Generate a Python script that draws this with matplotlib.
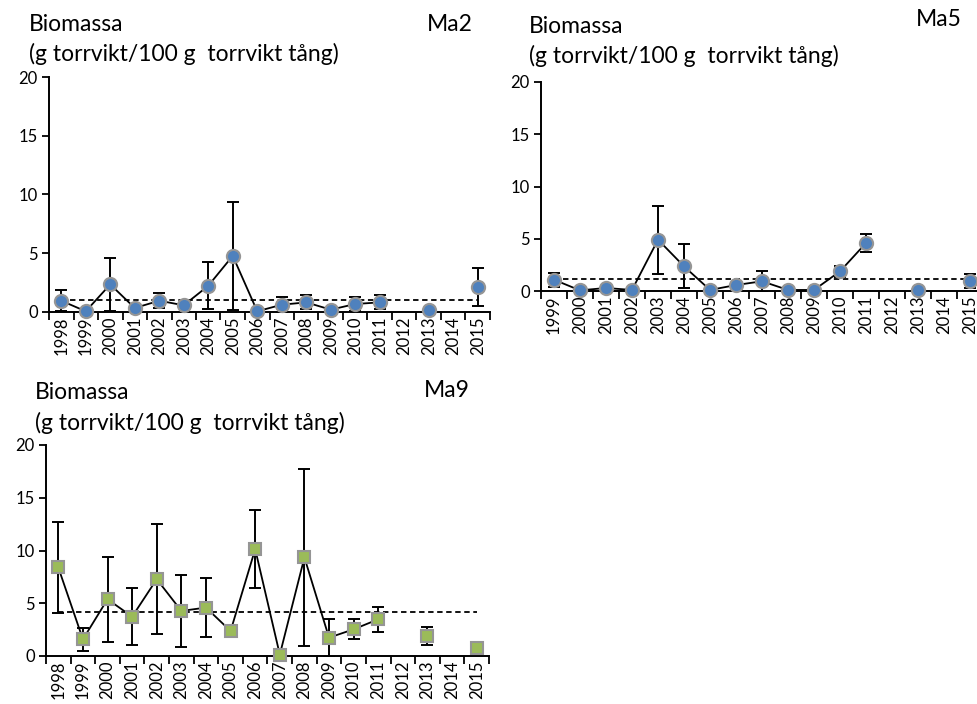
import numpy as np
import matplotlib
matplotlib.use("Agg")
import matplotlib.pyplot as plt
from matplotlib.ticker import FixedLocator, NullFormatter

plt.rcParams['font.family'] = ['Lato', 'DejaVu Sans']

nan = np.nan

# Ma2 station (1998-2015)
years_ma2 = [str(y) for y in range(1998, 2016)]
ma2_mean = [0.96, 0.06, 2.35, 0.34, 0.96, 0.57, 2.23, 4.78, 0.06, 0.62, 0.82, 0.20, 0.68, 0.82, nan, 0.20, nan, 2.09]
ma2_err = [0.88, 0.0, 2.23, 0.0, 0.62, 0.0, 2.0, 4.6, 0.0, 0.68, 0.60, 0.0, 0.62, 0.60, nan, 0.0, nan, 1.62]
ma2_avg = 1.0

# Ma5 station (1999-2015)
years_ma5 = [str(y) for y in range(1999, 2016)]
ma5_mean = [1.08, 0.06, 0.29, 0.10, 4.91, 2.36, 0.10, 0.57, 0.93, 0.10, 0.10, 1.88, 4.59, nan, 0.10, nan, 0.93]
ma5_err = [0.67, 0.0, 0.0, 0.0, 3.27, 2.1, 0.0, 0.0, 1.0, 0.0, 0.0, 0.55, 0.90, nan, 0.0, nan, 0.65]
ma5_avg = 1.18

# Ma9 station (1998-2015)
years_ma9 = [str(y) for y in range(1998, 2016)]
ma9_mean = [8.39, 1.58, 5.38, 3.73, 7.28, 4.27, 4.59, 2.37, 10.13, 0.13, 9.34, 1.74, 2.53, 3.48, nan, 1.90, nan, 0.79]
ma9_err = [4.35, 1.1, 4.03, 2.7, 5.2, 3.4, 2.8, 0.0, 3.7, 0.0, 8.4, 1.8, 0.95, 1.2, nan, 0.85, nan, 0.0]
ma9_avg = 4.18

W, H = 977, 704
fig = plt.figure(figsize=(W / 100, H / 100), dpi=100)


def px_axes(left, top, right, bottom):
    return fig.add_axes([left / W, 1 - bottom / H, (right - left) / W, (bottom - top) / H])


def draw_panel(ax, years, mean, err, avg, marker, face, msize):
    n = len(years)
    x = np.arange(n)
    mean = np.array(mean, dtype=float)
    err = np.array(err, dtype=float)
    ax.plot([0, n - 1], [avg, avg], color='black', lw=1.3, ls=(0, (3, 2)), zorder=2)
    ax.errorbar(x, mean, yerr=err, fmt='none', ecolor='black', elinewidth=1.4,
                capsize=4, capthick=1.4, zorder=3)
    ax.plot(x, mean, color='black', lw=1.3, zorder=4)
    ax.plot(x, mean, ls='none', marker=marker, ms=msize, mfc=face, mec='#959595',
            mew=1.5, zorder=5, clip_on=False)
    ax.set_xlim(-0.5, n - 0.5)
    ax.set_ylim(0, 20)
    ax.set_yticks([0, 5, 10, 15, 20])
    ax.xaxis.set_major_locator(FixedLocator(np.arange(-0.5, n, 1.0)))
    ax.xaxis.set_major_formatter(NullFormatter())
    ax.xaxis.set_minor_locator(FixedLocator(x))
    ax.set_xticklabels(years, minor=True, rotation=90)
    ax.tick_params(axis='x', which='major', length=6, width=1.3, direction='out')
    ax.tick_params(axis='x', which='minor', length=0, pad=3, labelsize=12)
    ax.tick_params(axis='y', length=5, width=1.3, direction='out', labelsize=12, pad=3)
    for s in ('top', 'right'):
        ax.spines[s].set_visible(False)
    for s in ('left', 'bottom'):
        ax.spines[s].set_linewidth(1.4)


def ftext(x, y, s, **kw):
    fig.text(x / W, 1 - y / H, s, va='baseline', fontsize=16.5, **kw)


unit = "(g torrvikt/100 g  torrvikt tång)"

ax1 = px_axes(49, 77, 490, 312)
draw_panel(ax1, years_ma2, ma2_mean, ma2_err, ma2_avg, 'o', '#4f81bd', 9.5)
ftext(29, 31, "Biomassa")
ftext(29, 61, unit)
ftext(473, 31, "Ma2", ha='right')

ax2 = px_axes(541, 82, 983, 291)
draw_panel(ax2, years_ma5, ma5_mean, ma5_err, ma5_avg, 'o', '#4f81bd', 9.5)
ftext(529, 33, "Biomassa")
ftext(529, 63, unit)
ftext(962, 26, "Ma5", ha='right')

ax3 = px_axes(46, 445, 489, 656)
draw_panel(ax3, years_ma9, ma9_mean, ma9_err, ma9_avg, 's', '#9bbb59', 9)
ftext(35, 399, "Biomassa")
ftext(35, 430, unit)
ftext(470, 397, "Ma9", ha='right')

fig.savefig("out.png", dpi=100)
